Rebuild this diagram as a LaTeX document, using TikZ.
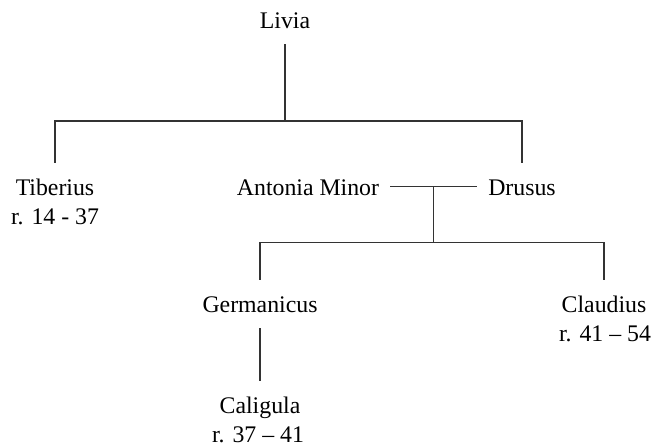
\documentclass[tikz,border=0pt]{standalone}
\usepackage{fontspec}
\setmainfont{Liberation Serif}
\usetikzlibrary{calc}
\tikzset{
  person/.style = {anchor=base, inner sep=0pt, outer sep=8pt, text height=8.2pt, text depth=0pt, font=\fontsize{11.9}{14}\selectfont},
  reign/.style = {anchor=base, inner sep=0pt, font=\fontsize{11.9}{14}\selectfont},
  line/.style = {line width=0.6pt, draw=black!80},
  marriage/.style = {line, shorten <=-2.5pt, shorten >=-2.5pt},
}

\begin{document}
\begin{tikzpicture}[x=0.5pt, y=-0.5pt]
  % fixed page size
  \useasboundingbox (0,0) rectangle (652,447);

  % ----------------------------------------------------------------------
  % People
  % ----------------------------------------------------------------------
  \node[person] (livia) at (285,28) {Livia};

  \node[person] (tiberius) at (55,195) {Tiberius};
  \node[reign] (tiberiusReign) at (55,224) {r. 14 - 37};

  \node[person] (antonia) at (308,195) {Antonia Minor};
  \node[person] (drusus) at (522,195) {Drusus};

  \node[person] (germanicus) at (260,312) {Germanicus};
  \node[person] (claudius) at (604,312) {Claudius};
  \node[reign] (claudiusReign) at (605,341) {r. 41 -- 54};

  \node[person] (caligula) at (260,413) {Caligula};
  \node[reign] (caligulaReign) at (258,442) {r. 37 -- 41};

  % ----------------------------------------------------------------------
  % Lines
  % ----------------------------------------------------------------------
  \coordinate (liviaBar) at (285,121);
  \draw[line] (livia.south) -- (liviaBar);
  \draw[line] (tiberius.north) |- (liviaBar) -| (drusus.north);

  % Antonia Minor and Drusus
  \draw[marriage] (antonia.east) -- (drusus.west);
  \coordinate (marriageMid) at ($(antonia.east)!0.5!(drusus.west)$);
  \coordinate (childBar) at ($(marriageMid) + (0,56)$);
  \draw[line] (marriageMid) -- (childBar);
  \draw[line] (germanicus.north) |- (childBar) -| (claudius.north);

  \draw[line] (germanicus) -- (caligula);
\end{tikzpicture}
\end{document}
